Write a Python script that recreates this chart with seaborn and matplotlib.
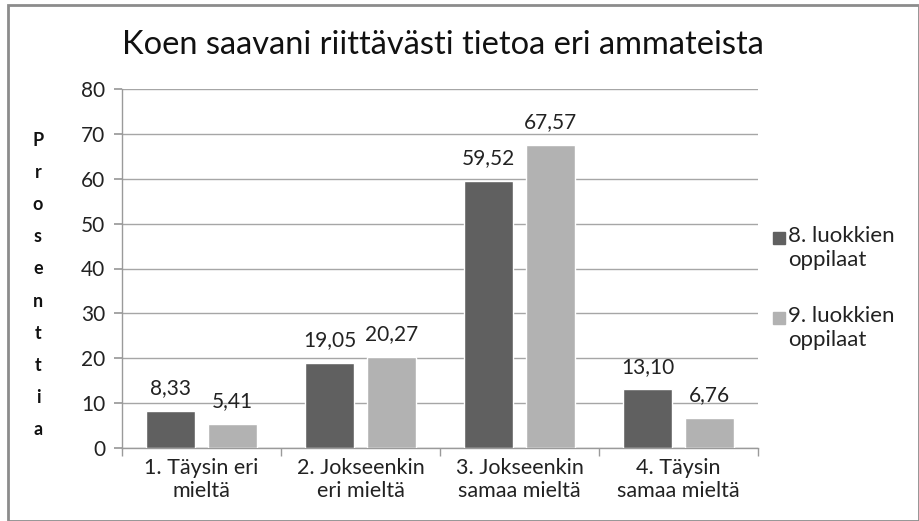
import matplotlib
matplotlib.use("Agg")
import matplotlib.pyplot as plt
import seaborn as sns
import pandas as pd
from matplotlib.patches import Rectangle

categories = ["1. Täysin eri\nmieltä", "2. Jokseenkin\neri mieltä", "3. Jokseenkin\nsamaa mieltä", "4. Täysin\nsamaa mieltä"]
series_names = ["8. luokkien\noppilaat", "9. luokkien\noppilaat"]
values_8 = [8.33, 19.05, 59.52, 13.10]
values_9 = [5.41, 20.27, 67.57, 6.76]
yticks = [0, 10, 20, 30, 40, 50, 60, 70, 80]

df = pd.DataFrame({
    "cat": categories * 2,
    "series": [series_names[0]] * 4 + [series_names[1]] * 4,
    "val": values_8 + values_9,
})

sns.set_theme(style="white")
plt.rcParams['font.family'] = ['Lato', 'DejaVu Sans']

fig = plt.figure(figsize=(9.2, 5.21), dpi=100)
ax = fig.add_axes([122/920, 1-448/521, (758-122)/920, (448-89)/521])

colors = ["#606060", "#b2b2b2"]
sns.barplot(data=df, x="cat", y="val", hue="series", palette=colors,
            width=0.775, gap=0.21, ax=ax, legend=False, zorder=3, saturation=1)

ax.set_ylim(0, 80)
ax.set_yticks(yticks)
ax.set_yticklabels([str(t) for t in yticks], fontsize=15, color="#222222")
ax.set_xlim(-0.5, 3.5)
ax.yaxis.grid(True, color="#a6a6a6", linewidth=1, zorder=0)
ax.set_axisbelow(True)
for s in ["top", "right"]:
    ax.spines[s].set_visible(False)
for s in ["left", "bottom"]:
    ax.spines[s].set_color("#9a9a9a")
    ax.spines[s].set_linewidth(1)

ax.tick_params(axis="y", which="major", left=True, length=6, color="#9a9a9a", pad=6)
ax.set_xticks([0, 1, 2, 3])
ax.set_xticklabels(categories, fontsize=15.5, color="#222222", linespacing=1.2)
ax.tick_params(axis="x", which="major", bottom=False, pad=1)
ax.set_xticks([-0.5, 0.5, 1.5, 2.5, 3.5], minor=True)
ax.tick_params(axis="x", which="minor", bottom=True, length=6, color="#9a9a9a")
ax.set_xlabel("")
ax.set_ylabel("")

for cont in ax.containers:
    labels = [f"{v:.2f}".replace(".", ",") for v in cont.datavalues]
    ax.bar_label(cont, labels=labels, padding=9, fontsize=15, color="#222222")

fig.text(443/920, 1 - 45/521, "Koen saavani riittävästi tietoa eri ammateista",
         ha="center", va="center", fontsize=23.5, color="#111111")

fig.text(38/920, 1 - 285/521, "\n".join("Prosenttia"), ha="center", va="center",
         fontsize=13, fontweight="bold", color="#111111", linespacing=2.08)

# legend
for i, (name, c) in enumerate(zip(series_names, colors)):
    y = 1 - (238 + i * 80) / 521
    fig.patches.append(Rectangle((773/920, y - 6/521), 12/920, 12/521,
                                 transform=fig.transFigure, color=c, figure=fig))
    fig.text(788/920, y + 12/521, name, ha="left", va="top", fontsize=16,
             color="#222222", linespacing=1.25)

fig.patches.append(Rectangle((8/920, 0), 1 - 8/920 - 1/920, 1 - 5/521, transform=fig.transFigure,
                             fill=False, edgecolor="#8c8c8c", linewidth=2, figure=fig))

fig.savefig("out.png", dpi=100)
